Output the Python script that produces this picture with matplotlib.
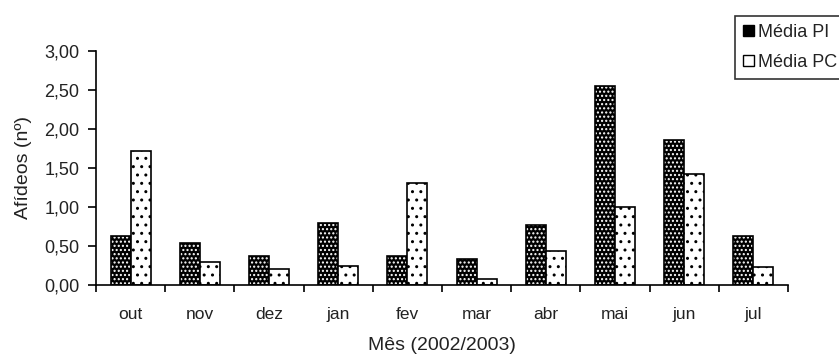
import matplotlib
matplotlib.use("Agg")
import matplotlib.pyplot as plt
import numpy as np
from matplotlib.patches import Patch

months = ["out", "nov", "dez", "jan", "fev", "mar", "abr", "mai", "jun", "jul"]
media_pi = [0.63, 0.54, 0.37, 0.80, 0.37, 0.33, 0.77, 2.55, 1.86, 0.63]
media_pc = [1.72, 0.29, 0.21, 0.24, 1.30, 0.08, 0.43, 1.00, 1.42, 0.23]
yticks = [0.0, 0.5, 1.0, 1.5, 2.0, 2.5, 3.0]
ytick_labels = ["0,00", "0,50", "1,00", "1,50", "2,00", "2,50", "3,00"]

plt.rcParams['font.family'] = ['Liberation Sans', 'DejaVu Sans']
plt.rcParams['hatch.linewidth'] = 1.0

fig = plt.figure(figsize=(8.39, 3.58), dpi=100)
ax = fig.add_axes([96/839, 1-285/358, (788-96)/839, (285-50.7)/358])

x = np.arange(len(months)) + 0.5
w = 0.29

# Media PI: black with white dots
ax.bar(x - w/2, media_pi, w, color="black", edgecolor="white", hatch="....", linewidth=0)
ax.bar(x - w/2, media_pi, w, facecolor="none", edgecolor="black", linewidth=1.2)
# Media PC: white with sparse black dots
ax.bar(x + w/2, media_pc, w, color="white", edgecolor="black", hatch="..", linewidth=0)
ax.bar(x + w/2, media_pc, w, facecolor="none", edgecolor="black", linewidth=1.2)

ax.set_xlim(0, len(months))
ax.set_ylim(0, 3.0)
ax.set_yticks(yticks)
ax.set_yticklabels(ytick_labels, fontsize=13, color="#222222")
ax.set_xticks(np.arange(len(months) + 1))
ax.set_xticklabels([""] * (len(months) + 1))
ax.set_xticks(x, minor=True)
ax.set_xticklabels(months, minor=True, fontsize=12.5, color="#222222")
ax.tick_params(axis='x', which='minor', length=0, pad=15.5)
ax.tick_params(axis='x', which='major', length=5, width=1.2, direction='out')
ax.tick_params(axis='y', length=6, width=1.2, direction='out', pad=6)

for s in ["top", "right"]:
    ax.spines[s].set_visible(False)
for s in ["left", "bottom"]:
    ax.spines[s].set_linewidth(1.2)

ax.set_ylabel("Afídeos (nº)", fontsize=14, color="#222222")
ax.yaxis.set_label_coords(-64/692, 0.5)
ax.set_xlabel("Mês (2002/2003)", fontsize=14, color="#222222")
ax.xaxis.set_label_coords(0.5, -52/234.3)

handles = [Patch(facecolor="black", edgecolor="black", hatch="...."),
           Patch(facecolor="white", edgecolor="black")]
leg = fig.legend(handles, ["Média PI", "Média PC"], loc="upper left",
                 bbox_to_anchor=(735/839, 1-16/358), fontsize=13,
                 frameon=True, fancybox=False, handlelength=0.6, handleheight=0.6,
                 handletextpad=0.2, borderpad=0.45, labelspacing=0.7, borderaxespad=0)
leg.get_frame().set_edgecolor("black")
leg.get_frame().set_linewidth(1.2)
for t in leg.get_texts():
    t.set_color("#222222")

fig.savefig("out.png", dpi=100)
